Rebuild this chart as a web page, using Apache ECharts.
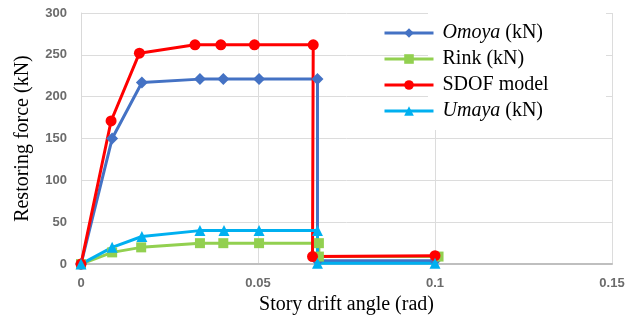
<!DOCTYPE html>
<html>
<head>
<meta charset="utf-8">
<script src="https://cdn.jsdelivr.net/npm/echarts@6/dist/echarts.min.js"></script>
<style>html,body{margin:0;padding:0;background:#fff}#c{width:633px;height:320px}</style>
</head>
<body>
<div id="c"></div>
<script>
const seriesNames = ['Omoya (kN)', 'Rink (kN)', 'SDOF model', 'Umaya (kN)'];
const omoyaX = [0, 0.0088, 0.0172, 0.0336, 0.0402, 0.0503, 0.0668, 0.0668, 0.1];
const omoyaY = [0, 150, 217, 221, 221, 221, 221, 4, 4];
const rinkX = [0, 0.0088, 0.017, 0.0336, 0.0402, 0.0503, 0.0672, 0.0672, 0.101];
const rinkY = [0, 14, 20, 25, 25, 25, 25, 9, 9];
const sdofX = [0, 0.0085, 0.0165, 0.0322, 0.0395, 0.049, 0.0656, 0.0654, 0.1];
const sdofY = [0, 171, 252, 262, 262, 262, 262, 9, 10];
const umayaX = [0, 0.0088, 0.0172, 0.0336, 0.0404, 0.0503, 0.0668, 0.0668, 0.1];
const umayaY = [0, 20, 33, 40, 40, 40, 40, 1, 1];
const xTicks = [0, 0.05, 0.1, 0.15];
const yTicks = [0, 50, 100, 150, 200, 250, 300];

const pairs = (xs, ys) => xs.map((x, i) => [x, ys[i]]);
const chart = echarts.init(document.getElementById('c'), null, {renderer: 'canvas'});
const serif = '"Liberation Serif", "Times New Roman", serif';
function mk(name, xs, ys, color, symbol, size) {
  return {
    name: name, type: 'line', data: pairs(xs, ys),
    symbol: symbol, symbolSize: size, showSymbol: true,
    lineStyle: {color: color, width: 3},
    itemStyle: {color: color},
    emphasis: {disabled: true}
  };
}
chart.setOption({
  animation: false,
  backgroundColor: '#fff',
  grid: {left: 81, right: 21, top: 13, bottom: 55, containLabel: false},
  graphic: [{type: 'rect', left: 428, top: 6, shape: {width: 178, height: 124}, style: {fill: '#fff'}, z: 1}],
  legend: {
    orient: 'vertical', left: 378, top: 18, itemWidth: 49, itemHeight: 12, itemGap: 6,
    data: seriesNames, z: 5,
    lineStyle: {width: 3},
    formatter: function (n) {
      if (n === 'Omoya (kN)') return '{i|Omoya} (kN)';
      if (n === 'Umaya (kN)') return '{i|Umaya} (kN)';
      return n;
    },
    textStyle: {fontFamily: serif, fontSize: 20, color: '#000', padding: [0, 0, 0, 4],
      rich: {i: {fontFamily: serif, fontSize: 20, fontStyle: 'italic', color: '#000'}}}
  },
  xAxis: {
    type: 'value', min: xTicks[0], max: xTicks[xTicks.length - 1], interval: 0.05,
    name: 'Story drift angle (rad)', nameLocation: 'middle', nameGap: 22,
    nameTextStyle: {fontFamily: serif, fontSize: 20, color: '#000'},
    axisLine: {show: true, lineStyle: {color: '#bfbfbf', width: 2}},
    axisTick: {show: false},
    axisLabel: {margin: 13, color: '#6b6b6b', fontSize: 13, fontWeight: 'bold', fontFamily: '"Liberation Sans", Arial, sans-serif'},
    splitLine: {show: true, lineStyle: {color: '#dcdcdc', width: 1}}
  },
  yAxis: {
    type: 'value', min: yTicks[0], max: yTicks[yTicks.length - 1], interval: 50,
    name: 'Restoring force (kN)', nameLocation: 'middle', nameGap: 48,
    nameTextStyle: {fontFamily: serif, fontSize: 20, color: '#000'},
    axisLine: {show: true, lineStyle: {color: '#d9d9d9', width: 1}},
    axisTick: {show: false},
    axisLabel: {margin: 14, color: '#6b6b6b', fontSize: 13, fontWeight: 'bold', fontFamily: '"Liberation Sans", Arial, sans-serif'},
    splitLine: {show: true, lineStyle: {color: '#dcdcdc', width: 1}}
  },
  series: [
    mk(seriesNames[0], omoyaX, omoyaY, '#4472C4', 'diamond', 12),
    mk(seriesNames[1], rinkX, rinkY, '#92D050', 'rect', 10),
    mk(seriesNames[2], sdofX, sdofY, '#FF0000', 'circle', 11),
    mk(seriesNames[3], umayaX, umayaY, '#00B0F0', 'triangle', 11)
  ]
});
</script>
</body>
</html>
